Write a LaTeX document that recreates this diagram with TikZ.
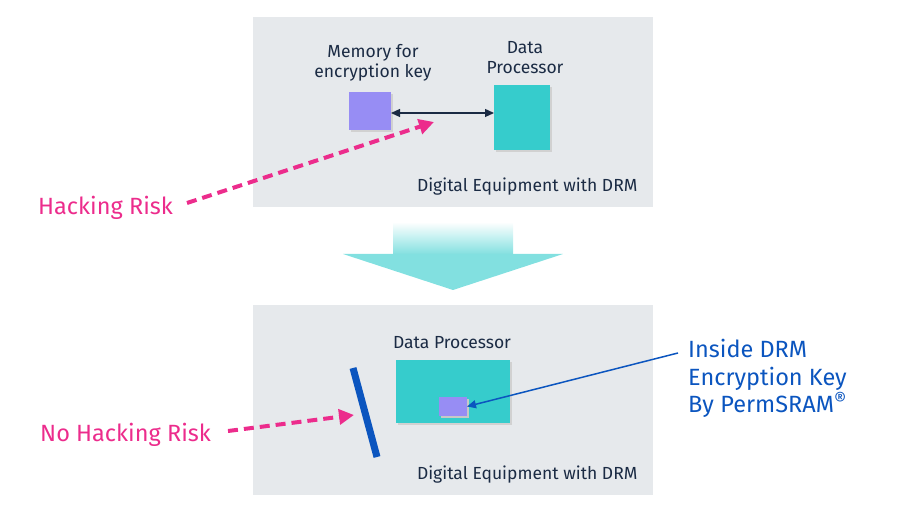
\documentclass[tikz,border=0pt]{standalone}
\usepackage{fontspec}
\setmainfont{Fira Sans}
\usetikzlibrary{arrows.meta}
\definecolor{panel}{HTML}{E6E9EC}
\definecolor{teal}{HTML}{36CCCC}
\definecolor{lilac}{HTML}{978DF4}
\definecolor{navy}{HTML}{1B2B44}
\definecolor{pink}{HTML}{EC2C8C}
\definecolor{drmblue}{HTML}{0B55BF}
\definecolor{bigarrow}{HTML}{82E0E0}
\tikzset{
  panelbox/.style={fill=panel, draw=none},
  chip/.style={draw=none, inner sep=0pt, outer sep=0pt},
  small/.style={font=\fontsize{17.5}{20}\selectfont, text=navy, align=center},
  big/.style={font=\fontsize{23.5}{27.5}\selectfont},
  hack/.style={pink, line width=4pt, dash pattern=on 10pt off 6pt, -{Triangle[length=15pt,width=15pt]}},
}
\begin{document}
\begin{tikzpicture}[x=1pt,y=-1pt]
\useasboundingbox (0,0) rectangle (900,510);
% panels
\fill[panelbox] (253,17) rectangle (653,207);
\fill[panelbox] (253,305) rectangle (653,495);
% top panel
\fill[black!18] (351,94) rectangle (393,132);
\node[chip, fill=lilac, minimum width=42pt, minimum height=38pt] (mem) at (370,111) {};
\fill[black!18] (496,87) rectangle (552,152);
\node[chip, fill=teal, minimum width=56pt, minimum height=65pt] (proc) at (522,117.5) {};
\draw[navy, line width=1.3pt, {Triangle[length=9pt,width=8pt]}-{Triangle[length=9pt,width=8pt]}] (mem.east |- 0,113) -- (proc.west |- 0,113);
\node[small] (memlbl) at (373,63) {Memory for\\encryption key};
\node[small] (proclbl) at (525,58) {Data\\Processor};
\node[small, anchor=east] (eq1) at (641,187) {Digital Equipment with DRM};
\node[big, text=pink, anchor=west, inner sep=0pt] (hr) at (38,208) {Hacking Risk};
\coordinate (hrtip) at (434,122);
\draw[hack] (187,203) -- (hrtip);
% big arrow
\shade[top color=white, bottom color=bigarrow] (393,222) rectangle (513,254.5);
\fill[bigarrow] (343,254) -- (563,254) -- (453,290) -- cycle;
% bottom panel
\fill[black!18] (398,362) rectangle (512,425);
\node[chip, fill=teal, minimum width=114pt, minimum height=63pt] (proc2) at (453,391.5) {};
\fill[black!22] (441,399) rectangle (469,418);
\node[chip, fill=lilac, minimum width=28pt, minimum height=19pt] (key) at (453,406.5) {};
\node[small] (proc2lbl) at (452,343) {Data Processor};
\node[small, anchor=east] (eq2) at (641,475) {Digital Equipment with DRM};
\draw[drmblue, line width=7pt] (353,368) -- (377,457);
\node[big, text=pink, anchor=west, inner sep=0pt] (nhr) at (40,435) {No Hacking Risk};
\coordinate (nhrtip) at (354,415);
\draw[hack] (228,431) -- (nhrtip);
\node[big, text=drmblue, anchor=north west, align=left, inner sep=0pt] (inside) at (688,339) {Inside DRM\\Encryption Key\\By PermSRAM\raisebox{6pt}{\fontsize{19}{19}\selectfont ®}};
\coordinate (instart) at (678,353);
\draw[drmblue, line width=1.5pt, -{Triangle[length=9pt,width=8pt]}] (instart) -- (key.east);
\end{tikzpicture}
\end{document}
